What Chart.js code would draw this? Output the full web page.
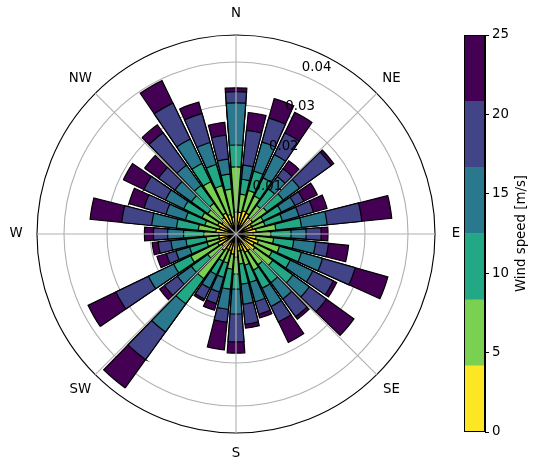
<!DOCTYPE html>
<html>
<head>
<meta charset="utf-8">
<script src="https://cdn.jsdelivr.net/npm/chart.js@4.4.1/dist/chart.umd.min.js"></script>
<style>
  html, body { margin: 0; padding: 0; background: #fff; }
  #wrap { position: relative; width: 541px; height: 469px; }
  #rose { position: absolute; left: 0; top: 0; }
  #cbar { position: absolute; left: 440px; top: 0; }
</style>
</head>
<body>
<div id="wrap">
  <canvas id="rose" width="541" height="469"></canvas>
  <canvas id="cbar" width="101" height="469"></canvas>
</div>
<script>
// wind direction sectors (degrees from north, clockwise)
var directions = [0, 10, 20, 30, 40, 50, 60, 70, 80, 90, 100, 110, 120, 130, 140, 150, 160, 170,
                  180, 190, 200, 210, 220, 230, 240, 250, 260, 270, 280, 290, 300, 310, 320, 330, 340, 350];
var compassLabels = ['N', 'NE', 'E', 'SE', 'S', 'SW', 'W', 'NW'];
var compassAngles = [0, 45, 90, 135, 180, 225, 270, 315];
var radialTicks = [0.01, 0.02, 0.03, 0.04];
var speedEdges = [0, 4.17, 8.33, 12.5, 16.67, 20.83, 25];
var speedTicks = [0, 5, 10, 15, 20, 25];
var speedColors = ['#fde725', '#7ad151', '#22a884', '#2a788e', '#414487', '#440154'];

// frequency of each speed bin per direction
var freqBin1 = [.0051,.0051,.0056,.0054,.0047,.0047,.0040,.0040,.0047,.0040,.0047,.0054,.0047,.0054,.0047,.0047,.0040,.0040,
                .0054,.0047,.0040,.0040,.0047,.0040,.0047,.0040,.0040,.0040,.0047,.0040,.0047,.0040,.0047,.0054,.0047,.0040];
var freqBin2 = [.0105,.0042,.0049,.0044,.0035,.0041,.0030,.0030,.0046,.0041,.0041,.0051,.0046,.0051,.0041,.0046,.0035,.0030,
                .0039,.0035,.0030,.0030,.0081,.0041,.0070,.0030,.0030,.0035,.0041,.0035,.0041,.0041,.0041,.0081,.0070,.0065];
var freqBin3 = [.0051,.0035,.0047,.0047,.0047,.0047,.0047,.0042,.0060,.0047,.0047,.0053,.0047,.0058,.0051,.0047,.0042,.0047,
                .0035,.0047,.0035,.0035,.0072,.0047,.0044,.0042,.0047,.0047,.0051,.0047,.0047,.0047,.0051,.0047,.0051,.0035];
var freqBin4 = [.0098,.0033,.0070,.0060,.0035,.0047,.0035,.0040,.0060,.0035,.0051,.0051,.0058,.0047,.0047,.0047,.0047,.0047,
                .0058,.0047,.0035,.0035,.0081,.0040,.0065,.0033,.0035,.0037,.0058,.0047,.0047,.0047,.0058,.0063,.0053,.0035];
var freqBin5 = [.0026,.0081,.0058,.0056,.0023,.0091,.0023,.0035,.0081,.0035,.0030,.0079,.0053,.0049,.0051,.0040,.0030,.0047,
                .0065,.0030,.0028,.0028,.0079,.0037,.0084,.0023,.0030,.0033,.0070,.0053,.0056,.0047,.0093,.0093,.0070,.0056];
var freqBin6 = [.0009,.0042,.0047,.0053,.0023,.0007,.0035,.0033,.0070,.0016,.0047,.0079,.0009,.0079,.0007,.0053,.0009,.0009,
                .0026,.0065,.0016,.0005,.0081,.0014,.0072,.0023,.0014,.0021,.0074,.0037,.0053,.0040,.0023,.0058,.0028,.0030];

var rMax = 0.04628;
var barWidth = 8.5;   // degrees
var gapWidth = 1.5;

Chart.defaults.font.family = 'DejaVu Sans';
Chart.defaults.font.size = 13.33;
Chart.defaults.color = '#000';

var bins = [freqBin1, freqBin2, freqBin3, freqBin4, freqBin5, freqBin6];

// every bar is followed by an empty gap sector
var labels = [];
directions.forEach(function (d) {
    labels.push(d + '°');
    labels.push('');
});

// stacked bars: each dataset is drawn from the centre up to the running total
var datasets = [];
var running = directions.map(function () { return 0; });
bins.forEach(function (bin, k) {
    running = running.map(function (v, i) { return v + bin[i]; });
    var data = [];
    running.forEach(function (v) {
        data.push(v);
        data.push(0);
    });
    datasets.push({
        label: speedEdges[k] + ' - ' + speedEdges[k + 1],
        data: data,
        backgroundColor: speedColors[k],
        borderColor: '#000',
        borderWidth: function (c) { return c.dataIndex % 2 === 0 ? 1.2 : 0; },
        borderJoinStyle: 'miter',
        angle: function (c) { return c.dataIndex % 2 === 0 ? barWidth : gapWidth; }
    });
});

var roseDecor = {
    id: 'roseDecor',
    afterDatasetsDraw: function (chart) {
        var s = chart.scales.r, ctx = chart.ctx;
        ctx.save();
        ctx.strokeStyle = '#b0b0b0';
        ctx.lineWidth = 1.1;
        compassAngles.forEach(function (deg) {
            var a = deg * Math.PI / 180;
            ctx.beginPath();
            ctx.moveTo(s.xCenter, s.yCenter);
            ctx.lineTo(s.xCenter + s.drawingArea * Math.sin(a), s.yCenter - s.drawingArea * Math.cos(a));
            ctx.stroke();
        });
        ctx.restore();
    },
    afterDraw: function (chart) {
        var s = chart.scales.r, ctx = chart.ctx;
        ctx.save();
        ctx.fillStyle = '#000';
        ctx.font = '13.33px "DejaVu Sans"';
        ctx.textAlign = 'center';
        ctx.textBaseline = 'middle';
        compassLabels.forEach(function (lab, i) {
            var a = compassAngles[i] * Math.PI / 180;
            var r = s.drawingArea + 21;
            ctx.fillText(lab, s.xCenter + r * Math.sin(a), s.yCenter - r * Math.cos(a));
        });
        var la = 22.5 * Math.PI / 180;
        ctx.textAlign = 'left';
        radialTicks.forEach(function (v) {
            var d = s.getDistanceFromCenterForValue(v);
            ctx.fillText(v.toFixed(2), s.xCenter + d * Math.sin(la), s.yCenter - d * Math.cos(la) - 8);
        });
        ctx.restore();
    }
};

new Chart(document.getElementById('rose'), {
    type: 'polarArea',
    data: { labels: labels, datasets: datasets },
    options: {
        responsive: false,
        animation: false,
        events: [],
        layout: { padding: { left: 37, top: 35, right: 106, bottom: 36 } },
        plugins: { legend: { display: false }, tooltip: { enabled: false } },
        scales: {
            r: {
                min: 0,
                max: rMax,
                startAngle: -barWidth / 2,
                z: 1,
                ticks: { display: false, stepSize: 0.01 },
                grid: {
                    circular: true,
                    color: function (c) { return c.tick && c.tick.value > 0.045 ? '#000' : '#b0b0b0'; },
                    lineWidth: 1.1
                },
                angleLines: { display: false },
                pointLabels: { display: false }
            }
        }
    },
    plugins: [roseDecor]
});

// colour bar
var cbarDecor = {
    id: 'cbarDecor',
    afterDraw: function (chart) {
        var a = chart.chartArea, ctx = chart.ctx;
        ctx.save();
        ctx.strokeStyle = '#000';
        ctx.lineWidth = 1;
        ctx.strokeRect(a.left + 0.5, a.top + 0.5, a.right - a.left - 1, a.bottom - a.top - 1);
        ctx.translate(82, (a.top + a.bottom) / 2);
        ctx.rotate(-Math.PI / 2);
        ctx.fillStyle = '#000';
        ctx.font = '13.33px "DejaVu Sans"';
        ctx.textAlign = 'center';
        ctx.textBaseline = 'middle';
        ctx.fillText('Wind speed [m/s]', 0, 0);
        ctx.restore();
    }
};

new Chart(document.getElementById('cbar'), {
    type: 'bar',
    data: {
        labels: [''],
        datasets: speedColors.map(function (c, k) {
            return {
                data: [speedEdges[k + 1] - speedEdges[k]],
                backgroundColor: c,
                borderWidth: 0,
                barPercentage: 1,
                categoryPercentage: 1
            };
        })
    },
    options: {
        responsive: false,
        animation: false,
        events: [],
        layout: { padding: { left: 24, top: 35, bottom: 37, right: 0 } },
        plugins: { legend: { display: false }, tooltip: { enabled: false } },
        scales: {
            x: { display: false, stacked: true },
            y: {
                stacked: true,
                min: 0,
                max: 25,
                position: 'right',
                afterBuildTicks: function (s) { s.ticks = speedTicks.map(function (v) { return { value: v }; }); },
                ticks: { padding: 3, color: '#000' },
                grid: { drawOnChartArea: false, tickLength: 4, color: '#000', lineWidth: 1 },
                border: { color: '#000' },
                afterFit: function (s) { s.width = 56; }
            }
        }
    },
    plugins: [cbarDecor]
});
</script>
</body>
</html>
